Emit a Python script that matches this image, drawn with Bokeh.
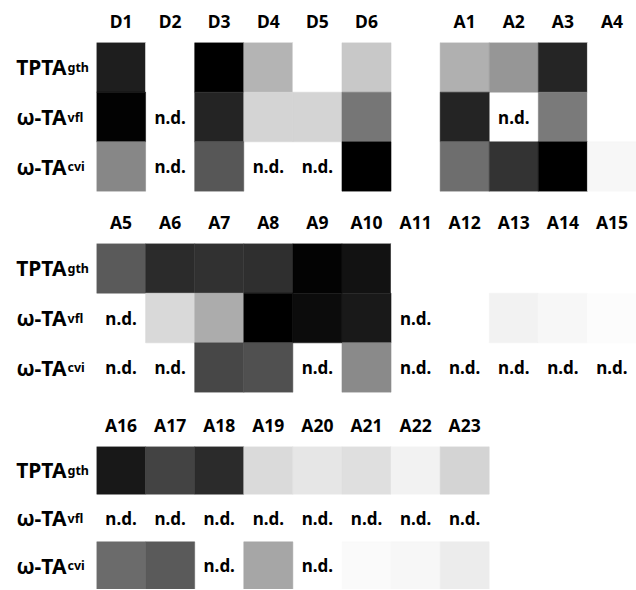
from bokeh.plotting import figure
from bokeh.models import FactorRange, ColumnDataSource, LinearColorMapper
from bokeh.layouts import column
from bokeh.palettes import Greys256
from bokeh.embed import file_html
from bokeh.resources import INLINE
from bokeh.core.properties import value
from bokeh.transform import transform

# ---------------- data (darkness 0 = white .. 255 = black, None = n.d.) -------------
ROWS = ["TPTAgth", "ω-TAvfl", "ω-TAcvi"]          # top to bottom
ROW_MAIN = ["TPTA", "ω-TA", "ω-TA"]
ROW_SUB = ["gth", "vfl", "cvi"]

P1_COLS = ["D1", "D2", "D3", "D4", "D5", "D6", "A1", "A2", "A3", "A4"]
P1_TPTA = [225, 0, 255, 75, 0, 55, 79, 105, 218, 0]
P1_VFL = [253, None, 219, 43, 43, 137, 219, None, 133, 0]
P1_CVI = [120, None, 168, None, None, 255, 145, 204, 255, 8]

P2_COLS = ["A5", "A6", "A7", "A8", "A9", "A10", "A11", "A12", "A13", "A14", "A15"]
P2_TPTA = [165, 212, 206, 208, 252, 237, 0, 0, 0, 0, 0]
P2_VFL = [None, 38, 83, 255, 243, 230, None, 0, 13, 8, 3]
P2_CVI = [None, None, 184, 175, None, 117, None, None, None, None, None]

P3_COLS = ["A16", "A17", "A18", "A19", "A20", "A21", "A22", "A23"]
P3_TPTA = [231, 188, 212, 37, 25, 32, 13, 43]
P3_VFL = [None, None, None, None, None, None, None, None]
P3_CVI = [148, 165, None, 89, None, 5, 8, 19]

FONT = "Noto Sans"
FIG_W = 636
LEFT = 96
N_SLOTS = 11
CELL_W = (FIG_W - LEFT) / N_SLOTS

mapper = LinearColorMapper(palette=list(reversed(Greys256)), low=0, high=255)


def make_panel(cols, series, height, top, bottom, gap_after=None):
    factors = list(cols)
    if gap_after is not None:
        factors = factors[:gap_after] + [" "] + factors[gap_after:]
    k = 2
    while len(factors) < N_SLOTS:          # blank slots keep every panel on one grid
        factors.append(" " * k)
        k += 1

    cx, cy, cv, nx, ny = [], [], [], [], []
    for r, vals in zip(ROWS, series):
        for c, v in zip(cols, vals):
            if v is None:
                nx.append(c)
                ny.append(r)
            else:
                cx.append(c)
                cy.append(r)
                cv.append(v)

    p = figure(x_range=FactorRange(factors=factors),
               y_range=FactorRange(factors=list(reversed(ROWS))),
               width=FIG_W, height=height, x_axis_location="above",
               output_backend="svg", toolbar_location=None,
               min_border_left=LEFT, min_border_right=0,
               min_border_top=top, min_border_bottom=bottom)
    p.outline_line_color = None
    p.grid.grid_line_color = None
    p.yaxis.visible = False
    ax = p.xaxis
    ax.axis_line_color = None
    ax.major_tick_line_color = None
    ax.minor_tick_line_color = None
    ax.major_tick_out = 0
    ax.major_label_standoff = 10
    ax.major_label_text_font = FONT
    ax.major_label_text_font_style = "bold"
    ax.major_label_text_font_size = "17.5px"
    ax.major_label_text_color = "black"

    cells = ColumnDataSource(dict(x=cx, y=cy, v=cv))
    p.rect(x="x", y="y", width=1, height=1, source=cells,
           fill_color=transform("v", mapper), line_color=transform("v", mapper),
           line_width=0.5)

    nd = ColumnDataSource(dict(x=nx, y=ny, t=["n.d."] * len(nx)))
    p.text(x="x", y="y", text="t", source=nd, text_align="center",
           text_baseline="middle", text_font=value(FONT), text_font_style="bold",
           text_font_size="17px", text_color="black")

    # row labels (main part + subscript), drawn on the overlay level so they
    # may sit in the left border, anchored at the first column's centre
    first_center = LEFT + CELL_W / 2
    lab = ColumnDataSource(dict(x=[cols[0]] * len(ROWS), y=ROWS,
                                main=ROW_MAIN, sub=ROW_SUB))
    p.text(x="x", y="y", text="main", source=lab, level="overlay",
           text_align="right", text_baseline="alphabetic",
           x_offset=66 - first_center, y_offset=0,
           text_font=value(FONT), text_font_style="bold",
           text_font_size="21px", text_color="black")
    p.text(x="x", y="y", text="sub", source=lab, level="overlay",
           text_align="left", text_baseline="alphabetic",
           x_offset=67 - first_center, y_offset=0,
           text_font=value(FONT), text_font_style="bold",
           text_font_size="12.5px", text_color="black")
    return p


p1 = make_panel(P1_COLS, [P1_TPTA, P1_VFL, P1_CVI], 201, 42, 10, gap_after=6)
p2 = make_panel(P2_COLS, [P2_TPTA, P2_VFL, P2_CVI], 201, 42, 10)
p3 = make_panel(P3_COLS, [P3_TPTA, P3_VFL, P3_CVI], 187, 44, 0)

layout = column(p1, p2, p3, spacing=0)
open("out.html", "w").write(file_html(layout, INLINE))
